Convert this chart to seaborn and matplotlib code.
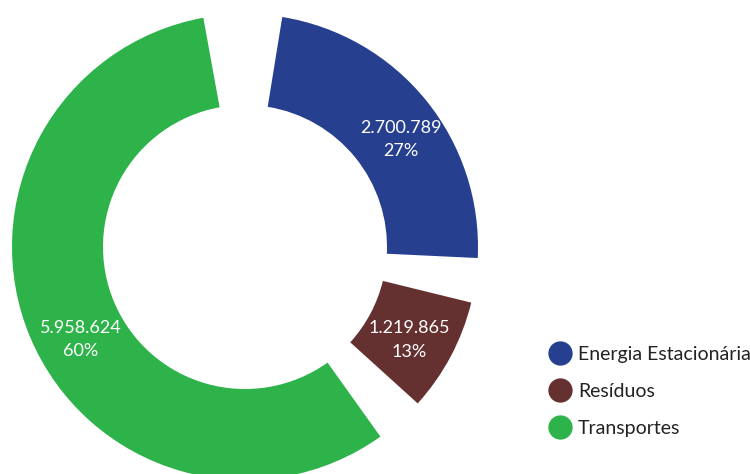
# Donut chart of emissions by sector
import numpy as np
import matplotlib.pyplot as plt
import seaborn as sns
from matplotlib.lines import Line2D

# Data
sectors = ['Energia Estacionária', 'Resíduos', 'Transportes']
values = [2700789, 1219865, 5958624]
pct_labels = ['27%', '13%', '60%']
colors = ['#26408F', '#653130', '#2EB34A']

sns.set_theme(style='white')
plt.rcParams['font.family'] = ['Lato', 'DejaVu Sans']

fig = plt.figure(figsize=(7.5, 4.74), dpi=100)
ax = fig.add_axes([0, 0, 1, 1])

# pie drawn in pixel-like data units, clockwise from the top
center = (245, 227)
radius = 233
wedges, _ = ax.pie(values, colors=colors, startangle=91.5, counterclock=False,
                   center=center, radius=radius, frame=True,
                   wedgeprops=dict(width=91, linewidth=0))
ax.set_xlim(0, 750)
ax.set_ylim(0, 474)
ax.set_aspect('equal')
ax.axis('off')

# gaps between the slices (degrees trimmed at the clockwise start / end)
pad_start = [10.7, 6.9, 3.1]
pad_end = [4.2, 9.2, 8.8]
for w, ps, pe in zip(wedges, pad_start, pad_end):
    w.set_theta2(w.theta2 - ps)
    w.set_theta1(w.theta1 + pe)

# value labels inside each slice (small angle nudges to match the original)
label_r = 189
nudge = [-4.4, -1.5, 6.5]
for w, v, p, n in zip(wedges, values, pct_labels, nudge):
    mid = np.deg2rad((w.theta1 + w.theta2) / 2 + n)
    x = center[0] + label_r * np.cos(mid)
    y = center[1] + label_r * np.sin(mid)
    txt = f'{v:,}'.replace(',', '.') + '\n' + p
    ax.text(x, y, txt, ha='center', va='center', color='white',
            fontsize=13, linespacing=1.55)

# legend with round markers
handles = [Line2D([0], [0], marker='o', linestyle='', markersize=16.5,
                  markerfacecolor=c, markeredgecolor=c) for c in colors]
leg = fig.legend(handles, sectors, loc='upper left', bbox_to_anchor=(0.727, 0.27),
                 frameon=False, fontsize=14, handletextpad=0.18, labelspacing=1.02,
                 borderpad=0, borderaxespad=0, handlelength=1.5)
for t in leg.get_texts():
    t.set_color('#222222')

fig.savefig('out.png', dpi=100)
